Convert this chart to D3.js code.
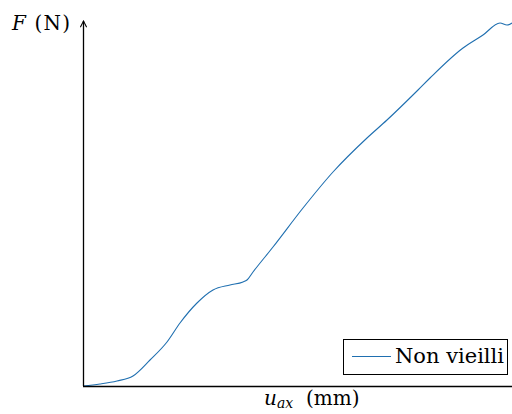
<!DOCTYPE html>
<html><head><meta charset="utf-8">
<script src="https://cdn.jsdelivr.net/npm/d3@7"></script>
<style>body{margin:0;background:#fff}svg{display:block}</style>
</head><body>
<svg id="c" width="512" height="414"></svg>
<script>
const uax = [0,0.17,0.34,0.50,0.67,0.84,0.97,1.14,1.30,1.47,1.60,1.64,1.70,1.90,2.20,2.50,2.84,3.04,3.35,3.47,3.80,4.00,4.17,4.24,4.29];
const force = [0,20,50,100,260,440,630,830,960,1010,1040,1060,1140,1390,1780,2140,2480,2660,2960,3080,3380,3510,3630,3610,3630];
const seriesName = "Non vieilli";

const svg = d3.select("#c");
const x = d3.scaleLinear().domain([0,4.29]).range([83,512]);
const y = d3.scaleLinear().domain([0,3640]).range([386,22]);
const font = "'DejaVu Serif',serif";

svg.append("defs").append("marker").attr("id","arr").attr("viewBox","0 0 10 10")
  .attr("refX",9).attr("refY",5).attr("markerWidth",6).attr("markerHeight",6).attr("orient","auto")
  .append("path").attr("d","M1,1 L9,5 L1,9").attr("fill","none").attr("stroke","#000").attr("stroke-width",1.3);

// curve
svg.append("path").datum(uax.map((u,i)=>[u,force[i]]))
  .attr("d", d3.line().curve(d3.curveMonotoneX).x(d=>x(d[0])).y(d=>y(d[1])))
  .attr("fill","none").attr("stroke","#1f6fb0").attr("stroke-width",1.1);

// axes
svg.append("line").attr("x1",83).attr("x2",512).attr("y1",386.5).attr("y2",386.5).attr("stroke","#000").attr("stroke-width",1.3);
svg.append("line").attr("x1",83.5).attr("x2",83.5).attr("y1",386).attr("y2",21).attr("stroke","#000").attr("stroke-width",1.3).attr("marker-end","url(#arr)");

// labels
const yl = svg.append("text").attr("x",12).attr("y",30).attr("font-family",font).attr("font-size",20).attr("textLength",58).attr("lengthAdjust","spacing");
yl.append("tspan").attr("font-style","italic").text("F");
yl.append("tspan").text(" (N)");
const xl = svg.append("text").attr("x",264).attr("y",405).attr("font-family",font).attr("font-size",20);
xl.append("tspan").attr("font-style","italic").text("u");
xl.append("tspan").attr("font-style","italic").attr("font-size",14).attr("dy",3).text("ax");
xl.append("tspan").attr("dy",-3).attr("x",306).text("(mm)");

// legend
svg.append("rect").attr("x",343.5).attr("y",339.5).attr("width",164).attr("height",35).attr("fill","#fff").attr("stroke","#000").attr("stroke-width",1);
svg.append("line").attr("x1",352).attr("x2",391).attr("y1",356.5).attr("y2",356.5).attr("stroke","#1f6fb0").attr("stroke-width",1.1);
svg.append("text").attr("x",395).attr("y",363).attr("font-family",font).attr("font-size",20).attr("textLength",109).attr("lengthAdjust","spacingAndGlyphs").text(seriesName);
</script>
</body></html>
